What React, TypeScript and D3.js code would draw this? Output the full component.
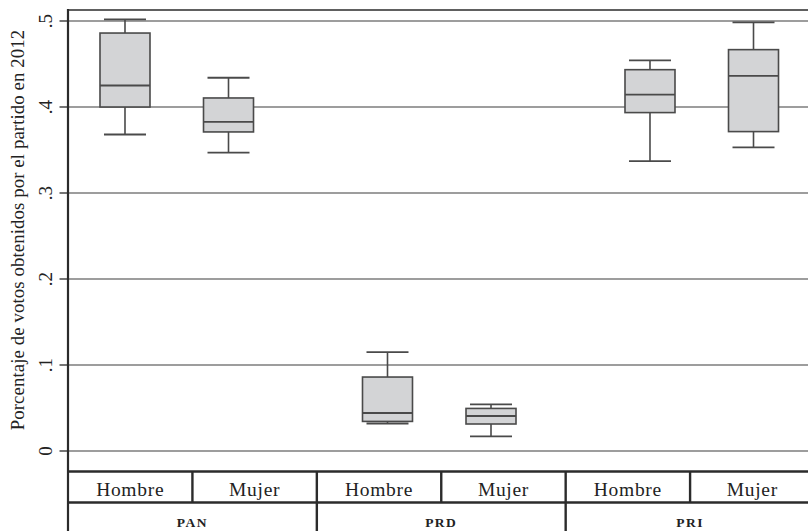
import React from "react";
import * as d3 from "d3";

const parties = ["PAN", "PRD", "PRI"];
const sexes = ["Hombre", "Mujer"];
// order: PAN-H, PAN-M, PRD-H, PRD-M, PRI-H, PRI-M
const lowerWhisker = [0.368, 0.347, 0.032, 0.017, 0.337, 0.353];
const q1 = [0.4, 0.371, 0.0344, 0.0314, 0.3935, 0.3714];
const median = [0.425, 0.3826, 0.0442, 0.0407, 0.4144, 0.4361];
const q3 = [0.486, 0.4105, 0.086, 0.0495, 0.4434, 0.4667];
const upperWhisker = [0.502, 0.434, 0.115, 0.0542, 0.4543, 0.4985];
const yTicks = [0, 0.1, 0.2, 0.3, 0.4, 0.5];
const yTickLabels = ["0", ".1", ".2", ".3", ".4", ".5"];
const yTitle = "Porcentaje de votos obtenidos por el partido en 2012";

const W = 808;
const H = 531;
const left = 68;
const right = 814.5;
const top = 10;
const plotBottom = 471.5;
const row1Bottom = 502.5;
const FONT = "'Liberation Serif', 'Times New Roman', serif";

export default function App() {
  const y = d3.scaleLinear().domain([0, 0.5]).range([451, 21]);
  const xGroup = d3.scaleBand<string>().domain(parties).range([45.5, 45.5 + 262.5 * 3]).padding(0);
  const xSex = d3.scalePoint<string>().domain(sexes).range([0, xGroup.bandwidth()]).padding(0.768);
  const cells = parties.flatMap((p) => sexes.map((s) => ({ p, s })));
  const tableX = d3.scaleBand<number>().domain(d3.range(6)).range([left, right]);
  const boxW = 50;
  const capW = 42;
  const boxes = cells.map((c, i) => ({
    cx: (xGroup(c.p) as number) + (xSex(c.s) as number),
    lo: lowerWhisker[i],
    q1: q1[i],
    med: median[i],
    q3: q3[i],
    hi: upperWhisker[i],
  }));
  const dark = "#2b2b2b";
  const boxStroke = "#4a4a4a";
  return (
    <svg width={W} height={H} style={{ position: "absolute", left: 0, top: 0, background: "#fff" }}>
      <rect x={0} y={0} width={W} height={H} fill="#fff" />
      {yTicks.map((t) => (
        <line key={"g" + t} x1={left} x2={right} y1={y(t)} y2={y(t)} stroke="#7d7d7d" strokeWidth={1.3} />
      ))}
      <line x1={left} x2={right} y1={top} y2={top} stroke={dark} strokeWidth={1.5} />
      {boxes.map((b, i) => (
        <g key={"b" + i} stroke={boxStroke} strokeWidth={1.6}>
          <line x1={b.cx} x2={b.cx} y1={y(b.hi)} y2={y(b.q3)} />
          <line x1={b.cx} x2={b.cx} y1={y(b.q1)} y2={y(b.lo)} />
          <line x1={b.cx - capW / 2} x2={b.cx + capW / 2} y1={y(b.hi)} y2={y(b.hi)} strokeWidth={1.8} />
          <line x1={b.cx - capW / 2} x2={b.cx + capW / 2} y1={y(b.lo)} y2={y(b.lo)} strokeWidth={1.8} />
          <rect x={b.cx - boxW / 2} y={y(b.q3)} width={boxW} height={y(b.q1) - y(b.q3)} fill="#d3d4d6" />
          <line x1={b.cx - boxW / 2} x2={b.cx + boxW / 2} y1={y(b.med)} y2={y(b.med)} strokeWidth={1.8} />
        </g>
      ))}
      <line x1={left} x2={left} y1={top - 1} y2={H} stroke={dark} strokeWidth={2.2} />
      {yTicks.map((t, i) => (
        <g key={"t" + t}>
          <line x1={59.5} x2={left} y1={y(t)} y2={y(t)} stroke={dark} strokeWidth={1.3} />
          <text
            transform={`translate(${52},${y(t)}) rotate(-90)`}
            textAnchor="middle"
            fontFamily={FONT}
            fontSize={19}
            fill="#222"
          >
            {yTickLabels[i]}
          </text>
        </g>
      ))}
      <text
        transform={`translate(${24},${230}) rotate(-90)`}
        textAnchor="middle"
        fontFamily={FONT}
        fontSize={18.8}
        letterSpacing={0.1}
        fill="#222"
      >
        {yTitle}
      </text>
      <line x1={left} x2={right} y1={plotBottom} y2={plotBottom} stroke={dark} strokeWidth={2.4} />
      <line x1={left} x2={right} y1={row1Bottom} y2={row1Bottom} stroke={dark} strokeWidth={2.4} />
      {cells.map((c, i) => (
        <g key={"c" + i}>
          {i > 0 && (
            <line
              x1={tableX(i)}
              x2={tableX(i)}
              y1={plotBottom}
              y2={i % 2 === 0 ? H : row1Bottom}
              stroke={dark}
              strokeWidth={2.4}
            />
          )}
          <text
            x={(tableX(i) as number) + tableX.bandwidth() / 2}
            y={495.5}
            textAnchor="middle"
            fontFamily={FONT}
            fontSize={19.5}
            letterSpacing={0.7}
            fill="#222"
          >
            {c.s}
          </text>
        </g>
      ))}
      {parties.map((p, g) => (
        <text
          key={"p" + p}
          x={(tableX(g * 2) as number) + tableX.bandwidth()}
          y={527}
          textAnchor="middle"
          fontFamily={FONT}
          fontSize={13.5}
          fontWeight={600}
          letterSpacing={1.5}
          fill="#222"
        >
          {p}
        </text>
      ))}
    </svg>
  );
}
